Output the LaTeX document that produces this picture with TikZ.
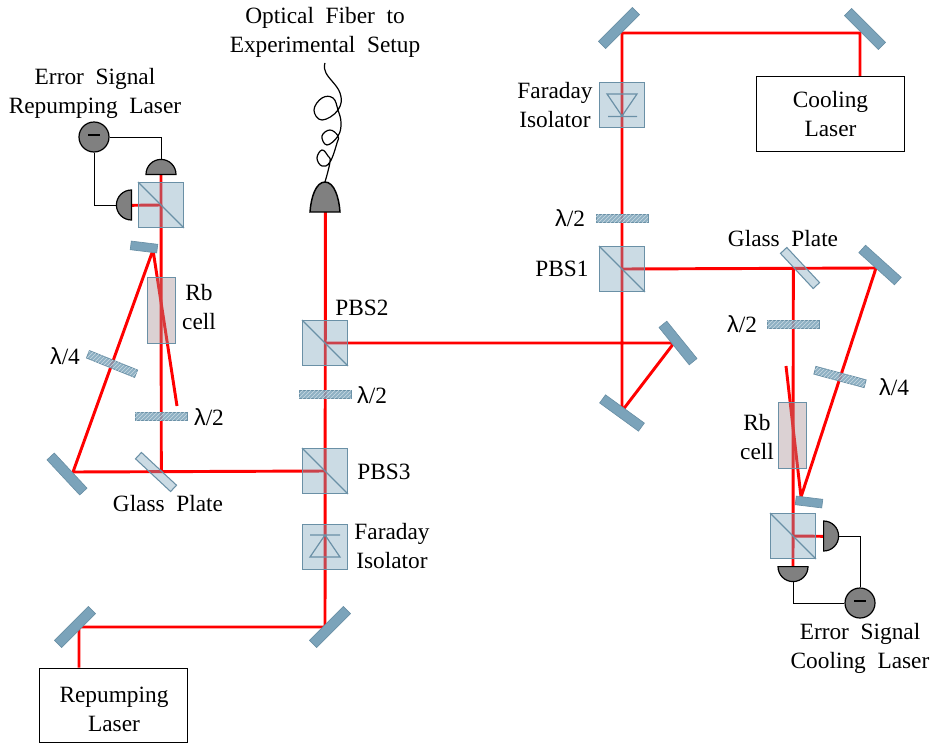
\documentclass[tikz,border=0pt]{standalone}
\usepackage{fontspec}
\setmainfont{Liberation Serif}
\newfontfamily\lamfont{Liberation Sans}
\usetikzlibrary{positioning,shapes.geometric,patterns,backgrounds,calc}
\definecolor{edgeblue}{HTML}{6A90A6}
\definecolor{mirrorblue}{HTML}{7BA3BA}
\definecolor{cubeblue}{HTML}{7EA5BC}
\definecolor{cellrose}{HTML}{A48C90}
\definecolor{detgray}{HTML}{808080}
\newcommand{\wsp}{\hspace{0.5em}}

\begin{document}
\begin{tikzpicture}[
  x=0.75pt,y=-0.75pt,
  every node/.style={font=\fontsize{17.5}{21.75}\selectfont},
  lab/.style={align=center,inner sep=0pt},
  lam/.style={inner sep=0pt},
  laser/.style={draw,line width=0.9pt,minimum width=111.5pt,minimum height=56pt,align=center,inner sep=0pt},
  cube/.style={draw=edgeblue,line width=0.9pt,fill=cubeblue,fill opacity=.4,text opacity=1,minimum size=33.5pt,inner sep=0pt},
  cell/.style={draw=edgeblue,line width=0.8pt,fill=cellrose,fill opacity=.4,minimum width=21.5pt,minimum height=50pt,inner sep=0pt},
  mirror/.style={draw=edgeblue,fill=mirrorblue,line width=0.5pt,minimum width=36pt,minimum height=7.5pt,inner sep=0pt},
  smallmirror/.style={mirror,minimum width=20pt,minimum height=6.5pt},
  glass/.style={draw=edgeblue,line width=0.8pt,fill=cubeblue,fill opacity=.4,minimum width=36pt,minimum height=6.5pt,inner sep=0pt},
  plate/.style={draw=edgeblue,line width=0.6pt,fill=mirrorblue,fill opacity=.85,minimum width=39pt,minimum height=6pt,inner sep=0pt,
    postaction={pattern=north east lines,pattern color=white!60!mirrorblue}},
  det/.style={semicircle,draw,line width=0.9pt,fill=detgray,minimum width=22.5pt,inner sep=0pt,anchor=chord center},
  sum/.style={circle,draw,line width=0.9pt,fill=detgray,minimum size=22.5pt,inner sep=0pt},
  beam/.style={red,line width=2.2pt},
  wire/.style={black,line width=0.7pt},
  split/.style={edgeblue,line width=0.9pt}
]
\useasboundingbox (0,0) rectangle (937,753);

% lasers
\node[laser] (repLaser) at (113.5,705.5) {};
\node[laser] (coolLaser) at (830.5,114) {Cooling\\Laser};

% cubes
\foreach \x/\y/\nm in {161/205/pbsL,325/343/pbsB,325/471/pbsC,622/269/pbsA,793/536/pbsR} {
  \node[cube] (\nm) at (\x,\y) {};
  \draw[split] (\nm.north west) -- (\nm.south east);
}
\node[cube] (isoA) at (622,105) {};
\node[cube] (isoB) at (325,547) {};
\draw[split] (607,94) -- (637,94) -- (622,116) -- cycle (608,116.5) -- (637,116.5);
\draw[split] (310,557) -- (340,557) -- (325,535) -- cycle (310,535) -- (340,535);

% mirrors
\foreach \x/\y/\ang/\nm in {75/627/45/mirRa,330/627/45/mirRb,619/28/45/mirCa,865/29/-45/mirCb,678/343/-51/mirD,622/413/-36/mirE,880/265/-42/mirF,67/474/-47/mirG} {
  \node[mirror,rotate=\ang] (\nm) at (\x,\y) {};
}
\node[smallmirror,rotate=-7] (mirH) at (144,247) {};
\node[smallmirror,rotate=-7] (mirI) at (809,502) {};

% wave plates
\foreach \x/\y/\ang/\nm in {161/416/0/hwpL,325/394/0/hwpB,622/218/0/hwpA,793/324/0/hwpR,112/364/-22/qwpL,840/377/-15/qwpR} {
  \node[plate,rotate=\ang] (\nm) at (\x,\y) {};
}

% glass plates and cells
\node[glass,rotate=-43] (glassL) at (156,472) {};
\node[glass,rotate=-47] (glassR) at (800,268) {};
\node[cell] (cellL) at (161.5,310.5) {};
\node[cell] (cellR) at (792.5,435.5) {};

% detectors
\node[det] (detLa) at (161,175) {};
\node[det,rotate=90] (detLb) at (132,205) {};
\node[det,rotate=-90] (detRa) at (823,536) {};
\node[det,rotate=180] (detRb) at (793,566) {};
\node[sum] (errL) at (94,137) {\rule[2.9pt]{9pt}{1.8pt}};
\node[sum] (errR) at (860,603) {\rule[2.9pt]{9pt}{1.8pt}};
\draw[wire] (errL.east) -| (detLa.apex);
\draw[wire] (errL.south) |- (detLb.apex);
\draw[wire] (errR.north) |- (detRa.apex);
\draw[wire] (errR.west) -| (detRb.apex);

% fiber coupler
\coordinate (fibBase) at (325.4,212);
\draw[line width=1.1pt,fill=detgray] (310,212) .. controls (311,197) and (316,182) .. (325,182)
  .. controls (334,182) and (339,197) .. (340,212) -- cycle;
\draw[line width=0.9pt] plot[smooth,tension=.7] coordinates {(325,182) (330,162) (328,156) (322,150) (317,158) (322,166) (330,162) (337,143)
  (338,136) (330,130) (322,136) (327,145) (338,136) (341,123) (338,110) (333,98) (322,98) (314,110) (322,120) (338,110) (340,93) (326,73) (325,63)};

% beams
\coordinate (cnRa) at (79,627);
\coordinate (cnRb) at (325,627);
\coordinate (cnG) at (73,472);
\coordinate (cnH) at (153,250);
\coordinate (endL) at (177,406);
\coordinate (cnD) at (674,343);
\coordinate (cnE) at (622,411);
\coordinate (cnCa) at (622,33);
\coordinate (cnCb) at (860,33);
\coordinate (cnF) at (876,268);
\coordinate (cnI) at (801,497);
\coordinate (endR) at (786,366);
\coordinate (endLa) at (161.3,471);
\coordinate (endRb) at (793.3,268);
\coordinate (endLb) at (132,205.3);
\coordinate (endRa) at (823,536.3);
\begin{scope}[on background layer]
\draw[beam] (repLaser.north -| cnRa) -- (cnRa) -- (cnRb) -- (fibBase);
\draw[beam] (pbsC.center) -- (cnG) -- (cnH) -- (endL);
\draw[beam] (detLa.chord center) -- (endLa);
\draw[beam] (pbsL.center) -- (endLb);
\draw[beam] (pbsB.center) -- (cnD) -- (cnE) -- (cnCa) -- (cnCb) -- (coolLaser.north -| cnCb);
\draw[beam] (pbsA.center) -- (cnF) -- (cnI) -- (endR);
\draw[beam] (endRb) -- (detRb.chord center);
\draw[beam] (pbsR.center) -- (endRa);
\end{scope}

% labels
\node[lab] (txtRep) at (114,709) {Repumping\\Laser};
\node[lab] (txtFiber) at (325,32.5) {Optical\wsp Fiber\wsp to\\Experimental\wsp Setup};
\node[lab] (txtErrL) at (95,93) {Error\wsp Signal\\Repumping\wsp Laser};
\node[lab] (txtErrR) at (860,648) {Error\wsp Signal\\Cooling\wsp Laser};
\node[lab] (txtIsoA) at (555,105.5) {Faraday\\Isolator};
\node[lab] (txtIsoB) at (392,546) {Faraday\\Isolator};
\node[lab] (txtPbsA) at (562,269) {PBS1};
\node[lab] (txtPbsB) at (362,308) {PBS2};
\node[lab] (txtPbsC) at (384,472) {PBS3};
\node[lab] (txtGlassL) at (168,503.5) {Glass\wsp Plate};
\node[lab] (txtGlassR) at (783,239) {Glass\wsp Plate};
\node[lab] (txtCellL) at (199,307) {Rb\\cell};
\node[lab] (txtCellR) at (757,437) {Rb\\cell};
\foreach \x/\y/\lab/\nm in {570/218/2/lamA,742/324/2/lamB,372/395/2/lamC,209/417/2/lamD,894/387/4/lamE,65/356/4/lamF} {
  \node[lam] (\nm) at (\x,\y) {{\lamfont λ}/\lab};
}
\end{tikzpicture}
\end{document}
